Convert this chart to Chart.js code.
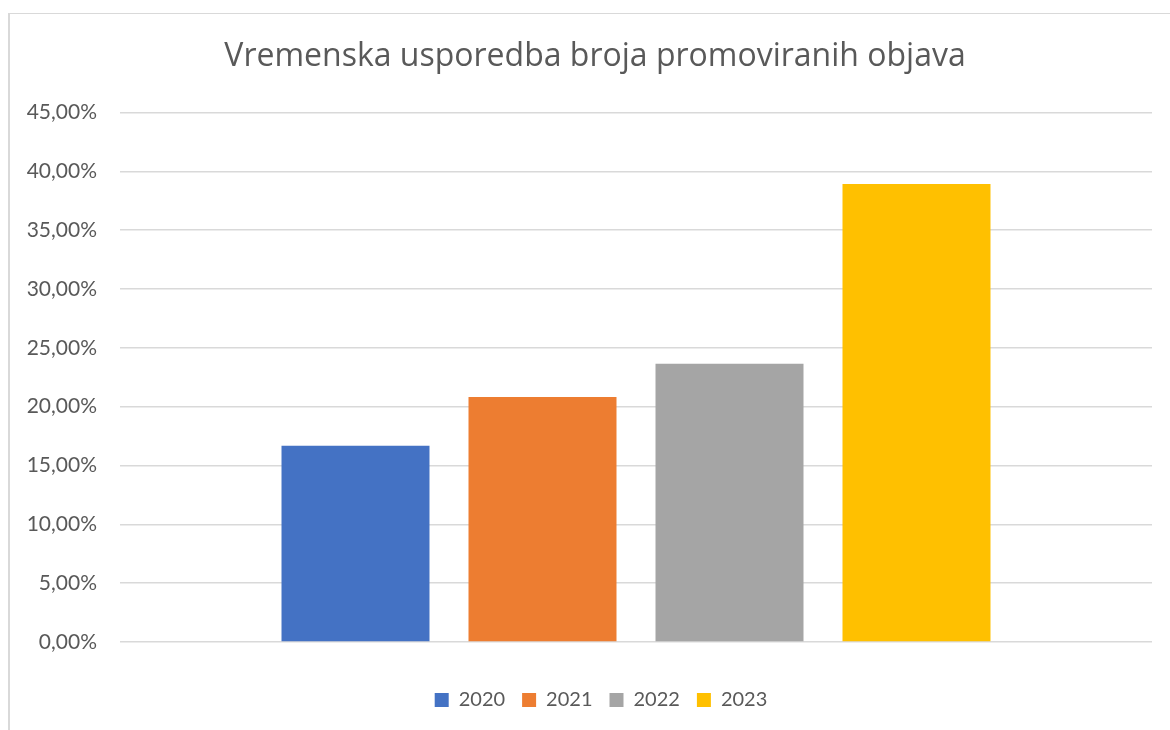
<!DOCTYPE html>
<html>
<head>
<meta charset="utf-8">
<script src="https://cdn.jsdelivr.net/npm/chart.js@4.4.1/dist/chart.umd.min.js"></script>
<style>
  html, body { margin: 0; padding: 0; background: #ffffff; overflow: hidden; }
  #frame { position: absolute; left: 8px; top: 13px; width: 1300px; height: 900px;
           border-left: 2px solid #d9d9d9; border-top: 1px solid #d9d9d9; box-sizing: border-box; }
  #wrap { position: absolute; left: 0; top: 0; width: 1170px; height: 730px; }
</style>
</head>
<body>
<div id="frame"></div>
<div id="wrap"><canvas id="c" width="1170" height="730"></canvas></div>
<script>
const chartTitle = 'Vremenska usporedba broja promoviranih objava';
const categories = [''];
const seriesNames = ['2020', '2021', '2022', '2023'];
const seriesValues = [16.67, 20.83, 23.64, 38.92];
const seriesColors = ['#4472C4', '#ED7D31', '#A5A5A5', '#FFC000'];
const yTicks = [0, 5, 10, 15, 20, 25, 30, 35, 40, 45];

const textColor = '#595959';
const fontFamily = 'Lato, "Open Sans", sans-serif';
const titleFont = '32px "Open Sans", Lato, sans-serif';

const datasets = seriesNames.map((name, i) => ({
  label: name,
  data: [seriesValues[i]],
  backgroundColor: seriesColors[i],
  borderWidth: 0,
  categoryPercentage: 0.7248,
  barPercentage: 0.7914
}));

const titlePlugin = {
  id: 'centeredTitle',
  afterUpdate(chart) {
    // centre the legend under the whole chart frame, as in the reference
    const lg = chart.legend;
    if (lg) { lg.left += 25; lg.right += 25; }
  },
  afterDraw(chart) {
    const ctx = chart.ctx;
    ctx.save();
    ctx.font = titleFont;
    ctx.fillStyle = textColor;
    ctx.textAlign = 'center';
    ctx.textBaseline = 'alphabetic';
    ctx.fillText(chartTitle, 595, 66);
    ctx.restore();
  }
};

new Chart(document.getElementById('c'), {
  type: 'bar',
  data: { labels: categories, datasets },
  plugins: [titlePlugin],
  options: {
    responsive: false,
    animation: false,
    events: [],
    layout: { padding: { left: 0, right: 18, top: 112.5, bottom: 10 } },
    plugins: {
      title: { display: false },
      legend: {
        display: true,
        position: 'bottom',
        labels: {
          color: textColor,
          font: { family: fontFamily, size: 20 },
          boxWidth: 14,
          boxHeight: 14,
          padding: 17
        }
      },
      tooltip: { enabled: false }
    },
    scales: {
      x: {
        display: true,
        grid: { display: false },
        border: { display: false },
        ticks: { display: false },
        afterFit: (scale) => { scale.height = 31; }
      },
      y: {
        min: yTicks[0],
        max: yTicks[yTicks.length - 1],
        afterBuildTicks: (scale) => { scale.ticks = yTicks.map(v => ({ value: v })); },
        afterFit: (scale) => { scale.width = 120; },
        border: { display: false },
        grid: { color: '#d9d9d9', lineWidth: 1.5, drawTicks: false },
        ticks: {
          color: textColor,
          font: { family: fontFamily, size: 21 },
          padding: 23,
          callback: (v) => v.toFixed(2).replace('.', ',') + '%'
        }
      }
    }
  }
});
</script>
</body>
</html>
